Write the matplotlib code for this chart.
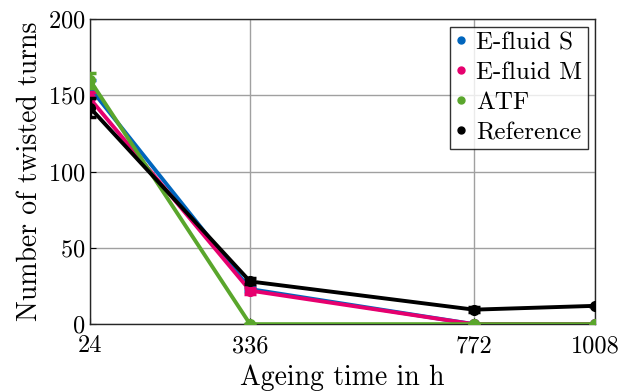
import numpy as np
import matplotlib
matplotlib.use('Agg')
import matplotlib.pyplot as plt
from matplotlib.lines import Line2D

plt.rcParams['font.family'] = 'serif'
plt.rcParams['font.serif'] = ['cmr10', 'DejaVu Serif']
plt.rcParams['mathtext.fontset'] = 'cm'
plt.rcParams['axes.formatter.use_mathtext'] = True

# Datos
ageing_h = [24, 336, 772, 1008]
tick_labels = ['24', '336', '772', '1008']
series_names = ['E-fluid S', 'E-fluid M', 'ATF', 'Reference']
efluid_s = [155, 23, 0, 0]
efluid_s_err = [5, 1.5, 0, 0]
efluid_m = [148, 22, 0, 0]
efluid_m_err = [4, 2, 0, 0]
atf = [160, 0, 0, 0]
atf_err = [5, 0, 0, 0]
reference = [142, 28, 9.5, 12]
reference_err = [6, 2, 1.5, 0]

colors = ['#0065bd', '#e6006e', '#5aa62c', '#000000']
values = [efluid_s, efluid_m, atf, reference]
errors = [efluid_s_err, efluid_m_err, atf_err, reference_err]

fig = plt.figure(figsize=(6.33, 3.91), dpi=100)
ax = fig.add_axes([0.142, 0.171, 0.798, 0.780])

for i in range(4):
    ax.errorbar(ageing_h, values[i], yerr=errors[i], color=colors[i],
                marker='o', markersize=7, linewidth=2.8, elinewidth=2.5,
                capsize=4, capthick=2.5, zorder=3 + i)

ax.set_xlim(24, 1008)
ax.set_ylim(0, 200)
ax.set_xticks(ageing_h)
ax.set_xticklabels(tick_labels)
ax.set_yticks([0, 50, 100, 150, 200])
ax.grid(True, color='#a0a0a0', linewidth=1.0)
ax.set_axisbelow(True)
ax.tick_params(direction='in', length=4, labelsize=17.5, pad=3)
ax.tick_params(axis='x', pad=8)
for s in ax.spines.values():
    s.set_linewidth(1.0)
    s.set_color('#262626')

ax.set_xlabel('Ageing time in h', fontsize=20, labelpad=5)
ax.set_ylabel('Number of twisted turns', fontsize=20, labelpad=4)

handles = [Line2D([], [], color=c, marker='o', linestyle='none', markersize=5)
           for c in colors]
leg = ax.legend(handles, series_names, loc='upper right', fontsize=18,
                frameon=True, fancybox=False, edgecolor='black',
                handlelength=0.5, handletextpad=0.35, borderpad=0.2,
                labelspacing=0.3, borderaxespad=0.3)
leg.get_frame().set_linewidth(1.0)
leg.set_zorder(10)

fig.savefig('out.png', dpi=100)
